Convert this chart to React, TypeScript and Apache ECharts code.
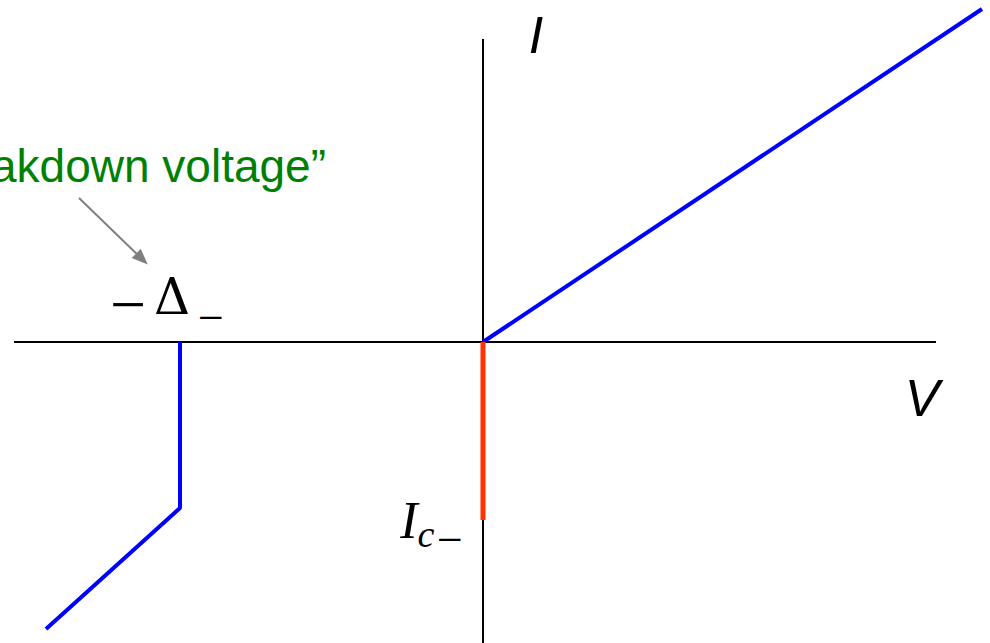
import React, { useEffect, useRef } from "react";
import * as echarts from "echarts";

// I–V characteristic, arbitrary units (origin at V = 0, I = 0)
const forwardBranch: [number, number][] = [
  [0, 0],
  [4.99, 3.33],
];
const breakdownBranch: [number, number][] = [
  [-3.03, 0],
  [-3.03, -1.66],
  [-4.37, -2.87],
];
const criticalCurrentBranch: [number, number][] = [
  [0, 0],
  [0, -1.78],
];
// drawn extent of the V and I axes
const vAxisExtent: [number, number][] = [
  [-4.69, 0],
  [4.53, 0],
];
const iAxisExtent: [number, number][] = [
  [0, 3.03],
  [0, -3.01],
];
// annotation arrow: from the caption down toward −Δ₋
const arrowFrom: [number, number] = [-4.04, 1.44];
const arrowTo: [number, number] = [-3.41, 0.83];

const xRange: [number, number] = [-4.83, 5.07];
const yRange: [number, number] = [-3.01, 3.42];

const captionText = "“Breakdown voltage”";

export default function App() {
  const ref = useRef<HTMLDivElement>(null);

  useEffect(() => {
    if (!ref.current) return;
    const chart = echarts.init(ref.current, null, { renderer: "svg" });

    const hiddenAxis = {
      type: "value" as const,
      axisLine: { show: false },
      axisTick: { show: false },
      axisLabel: { show: false },
      splitLine: { show: false },
    };

    const sansItalic = {
      fontFamily: "Liberation Sans, Arial, sans-serif",
      fontStyle: "italic" as const,
      fontSize: 52,
      fill: "#000",
    };
    const serif = "Liberation Serif, Times New Roman, serif";
    const mathSerif = "DejaVu Serif, serif";

    const plain = (data: [number, number][], color: string, width: number, z = 2) => ({
      type: "line" as const,
      data,
      symbol: "none",
      clip: false,
      silent: true,
      z,
      lineStyle: { color, width },
    });

    const minusSign = (x: number, y: number, size: number) => ({
      type: "text" as const,
      x,
      y,
      style: { text: "−", fontFamily: serif, fontSize: size, fill: "#000", align: "center", verticalAlign: "middle" },
    });

    chart.setOption({
      animation: false,
      backgroundColor: "#fff",
      grid: { left: 0, top: 0, width: 990, height: 643, containLabel: false },
      xAxis: { ...hiddenAxis, min: xRange[0], max: xRange[1] },
      yAxis: { ...hiddenAxis, min: yRange[0], max: yRange[1] },
      series: [
        plain(vAxisExtent, "#000", 2, 1),
        plain(iAxisExtent, "#000", 2, 1),
        plain(forwardBranch, "#0000ff", 4),
        plain(breakdownBranch, "#0000ff", 4),
        {
          ...plain(criticalCurrentBranch, "#ff3300", 5, 3),
          markLine: {
            silent: true,
            symbol: ["none", "triangle"],
            symbolSize: [13, 16],
            label: { show: false },
            lineStyle: { color: "#7f7f7f", width: 2, type: "solid" },
            data: [[{ coord: arrowFrom }, { coord: arrowTo }]],
          },
        },
      ],
      graphic: [
        {
          type: "text",
          x: 536,
          y: 35,
          style: { ...sansItalic, text: "I", align: "center", verticalAlign: "middle" },
        },
        {
          type: "text",
          x: 922,
          y: 398,
          style: { ...sansItalic, text: "V", align: "center", verticalAlign: "middle" },
        },
        {
          type: "text",
          x: 326,
          y: 166,
          style: {
            text: captionText,
            fontFamily: "Liberation Sans, Arial, sans-serif",
            fontSize: 46,
            fill: "#008000",
            align: "right",
            verticalAlign: "middle",
          },
        },
        // −Δ₋
        minusSign(128, 304, 64),
        {
          type: "text",
          x: 172,
          y: 297,
          style: { text: "Δ", fontFamily: mathSerif, fontSize: 50, fill: "#000", align: "center", verticalAlign: "middle" },
        },
        minusSign(211, 317, 46),
        // I_c−
        {
          type: "text",
          x: 409,
          y: 520,
          style: {
            text: "I",
            fontFamily: serif,
            fontStyle: "italic",
            fontSize: 52,
            fill: "#000",
            align: "center",
            verticalAlign: "middle",
          },
        },
        {
          type: "text",
          x: 426,
          y: 534,
          style: {
            text: "c",
            fontFamily: serif,
            fontStyle: "italic",
            fontSize: 38,
            fill: "#000",
            align: "center",
            verticalAlign: "middle",
          },
        },
        minusSign(450, 539, 46),
      ],
    });

    return () => chart.dispose();
  }, []);

  return (
    <div
      ref={ref}
      style={{ position: "absolute", left: 0, top: 0, width: 990, height: 643 }}
    />
  );
}
